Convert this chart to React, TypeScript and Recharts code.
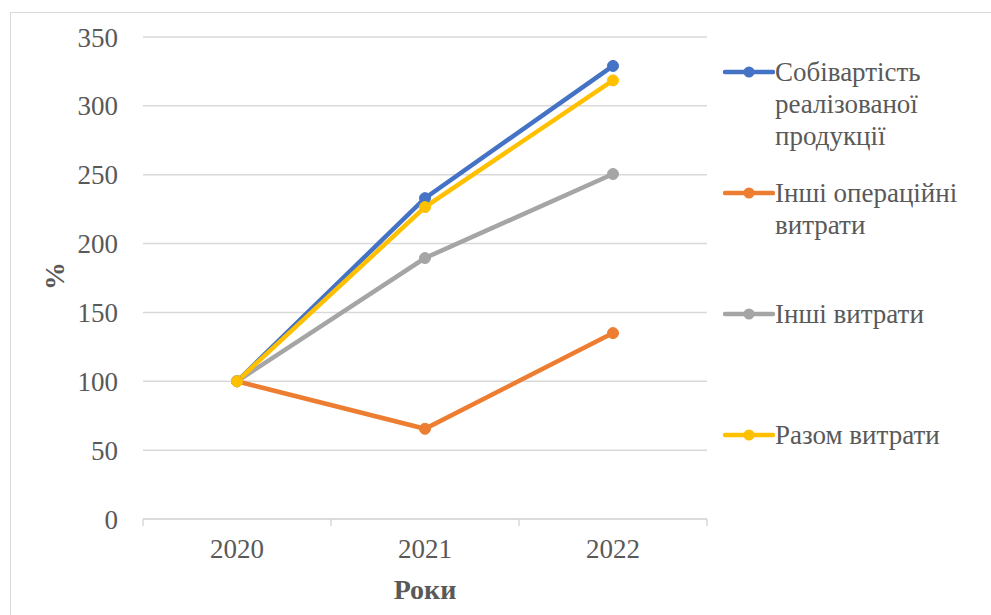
import React from "react";
import { LineChart, Line, XAxis, YAxis, CartesianGrid, Label } from "recharts";

const years = ["2020", "2021", "2022"];
const sobivartist = [100, 233, 329];
const inshiOperatsiini = [100, 65.5, 135];
const inshiVytraty = [100, 189.5, 250.5];
const razomVytraty = [100, 226.5, 318.5];
const yTicks = [0, 50, 100, 150, 200, 250, 300, 350];
const xTicks = [-0.5, 0, 0.5, 1, 1.5, 2, 2.5];

const series = [
  { key: "s1", name: "Собівартість реалізованої продукції", lines: ["Собівартість", "реалізованої", "продукції"], color: "#4472C4", values: sobivartist },
  { key: "s2", name: "Інші операційні витрати", lines: ["Інші операційні", "витрати"], color: "#ED7D31", values: inshiOperatsiini },
  { key: "s3", name: "Інші витрати", lines: ["Інші витрати"], color: "#A5A5A5", values: inshiVytraty },
  { key: "s4", name: "Разом витрати", lines: ["Разом витрати"], color: "#FFC000", values: razomVytraty },
];

const data = years.map((y, i) => {
  const row: any = { idx: i, year: y };
  series.forEach((s) => (row[s.key] = s.values[i]));
  return row;
});

const FONT = "Liberation Serif";
const TEXT = "#595959";
const GRID = "#d9d9d9";
const FS = 27;

// x axis: labels at category centres, small tick marks at the band edges
const XTick = (props: any) => {
  const { x, y, payload } = props;
  const v = payload.value;
  if (!Number.isInteger(v)) {
    return <line x1={x} x2={x} y1={y - 20} y2={y - 13} stroke={GRID} strokeWidth={1.5} />;
  }
  return (
    <text x={x} y={y} dy="0.71em" textAnchor="middle" fill={TEXT} fontSize={FS} fontFamily={FONT}>
      {years[v]}
    </text>
  );
};

const LegendBox = () => (
  <div style={{ position: "absolute", left: 723, top: 56, width: 268, fontFamily: FONT, fontSize: FS, color: TEXT }}>
    {series.map((s) => (
      <div key={s.key} style={{ height: 121, display: "flex", alignItems: "flex-start" }}>
        <svg width={52} height={32} style={{ flex: "none" }}>
          <line x1={2} x2={50} y1={16} y2={16} stroke={s.color} strokeWidth={4.5} strokeLinecap="round" />
          <circle cx={26} cy={16} r={5.5} fill={s.color} />
        </svg>
        <div style={{ lineHeight: "32px", whiteSpace: "nowrap" }}>
          {s.lines.map((l) => (
            <div key={l}>{l}</div>
          ))}
        </div>
      </div>
    ))}
  </div>
);

export default function App() {
  return (
    <div style={{ position: "absolute", left: 0, top: 0, width: 991, height: 615, overflow: "hidden", background: "#fff" }}>
      <div style={{ position: "absolute", left: 10, top: 12, width: 1000, height: 700, border: `1.5px solid ${GRID}` }} />
      <LineChart width={991} height={615} data={data} margin={{ top: 37, right: 284, bottom: 0, left: 0 }}>
        <CartesianGrid horizontal vertical={false} stroke={GRID} strokeWidth={1.5} />
        <XAxis
          dataKey="idx"
          type="number"
          domain={[-0.5, 2.5]}
          ticks={xTicks}
          interval={0}
          height={96}
          tickLine={false}
          tickMargin={14}
          axisLine={{ stroke: GRID, strokeWidth: 1.5 }}
          tick={<XTick />}
        >
          <Label value="Роки" position="insideBottom" offset={16} fill={TEXT} fontSize={28} fontWeight="bold" fontFamily={FONT} />
        </XAxis>
        <YAxis
          width={143}
          domain={[0, 350]}
          ticks={yTicks}
          interval={0}
          axisLine={false}
          tickLine={false}
          tickMargin={19}
          tick={{ fill: TEXT, fontSize: FS, fontFamily: FONT }}
        >
          <Label
            content={() => (
              <text x={64} y={276} transform="rotate(-90 64 276)" textAnchor="middle" fill={TEXT} fontSize={28} fontWeight="bold" fontFamily={FONT}>
                %
              </text>
            )}
          />
        </YAxis>
        {series.map((s) => (
          <Line
            key={s.key}
            dataKey={s.key}
            name={s.name}
            stroke={s.color}
            strokeWidth={4.5}
            dot={{ r: 5.5, fill: s.color, stroke: s.color, strokeWidth: 1 }}
            activeDot={false}
            isAnimationActive={false}
          />
        ))}
      </LineChart>
      <LegendBox />
    </div>
  );
}
